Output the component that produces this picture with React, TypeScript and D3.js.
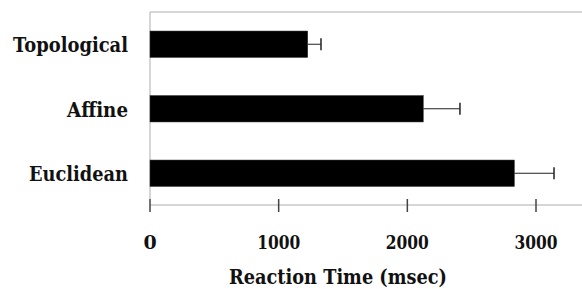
import React from 'react';
import * as d3 from 'd3';

const categories = ['Topological', 'Affine', 'Euclidean'];
const meanTimes = [1226, 2124, 2832];
const errorTimes = [103, 285, 308];
const xTicks = [0, 1000, 2000, 3000];
const axisTitle = 'Reaction Time (msec)';

const width = 582;
const height = 289;
const font = "'DejaVu Serif', serif";

// DejaVu Serif is wider than the Times-like face in the picture, so text is squeezed a little
const labelWidths: Record<string, number> = { Topological: 115, Affine: 61, Euclidean: 99 };

export default function App() {
  const x = d3.scaleLinear().domain([0, 3000]).range([150, 536]);
  const y = d3.scaleBand<string>()
    .domain(categories)
    .range([12, 205.5])
    .paddingInner(0.59)
    .paddingOuter(0.295);

  const right = width;
  const axisY = 205;
  const capH = 12;
  const textStyle = { fontFamily: font, fontWeight: 'bold' as const, fill: '#111' };

  return (
    <svg
      width={width}
      height={height}
      style={{ position: 'absolute', left: 0, top: 0, background: '#fff' }}
    >
      {/* frame */}
      <line x1={x(0)} x2={right} y1={12} y2={12} stroke="#c8c8c8" strokeWidth={1.5} />
      <line x1={x(0)} x2={x(0)} y1={12} y2={199} stroke="#c8c8c8" strokeWidth={1.5} />

      {categories.map((c, i) => {
        const y0 = y(c)!;
        const bw = y.bandwidth();
        const cy = y0 + bw / 2;
        const xEnd = x(meanTimes[i]);
        const xErr = x(meanTimes[i] + errorTimes[i]);
        return (
          <g key={c}>
            <rect x={x(0)} y={y0} width={xEnd - x(0)} height={bw} fill="#000" stroke="#333" strokeWidth={0.5} />
            <line x1={xEnd} x2={xErr} y1={cy} y2={cy} stroke="#222" strokeWidth={1} />
            <line x1={xErr} x2={xErr} y1={cy - capH / 2} y2={cy + capH / 2} stroke="#222" strokeWidth={1.5} />
            <text
              x={128}
              y={cy}
              dy="0.4em"
              textAnchor="end"
              textLength={labelWidths[c]}
              lengthAdjust="spacingAndGlyphs"
              style={{ ...textStyle, fontSize: 20 }}
            >
              {c}
            </text>
          </g>
        );
      })}

      {/* x axis */}
      <line x1={x(0)} x2={right} y1={axisY} y2={axisY} stroke="#c8c8c8" strokeWidth={1.5} />
      {xTicks.map(t => (
        <g key={t}>
          <line x1={x(t)} x2={x(t)} y1={199} y2={212} stroke="#444" strokeWidth={1.5} />
          <text
            x={x(t)}
            y={249}
            textAnchor="middle"
            textLength={t === 0 ? undefined : 43}
            lengthAdjust="spacingAndGlyphs"
            style={{ ...textStyle, fontSize: 19 }}
          >
            {t}
          </text>
        </g>
      ))}
      <text
        x={338}
        y={284}
        textAnchor="middle"
        textLength={218}
        lengthAdjust="spacingAndGlyphs"
        style={{ ...textStyle, fontSize: 20 }}
      >
        {axisTitle}
      </text>
    </svg>
  );
}
